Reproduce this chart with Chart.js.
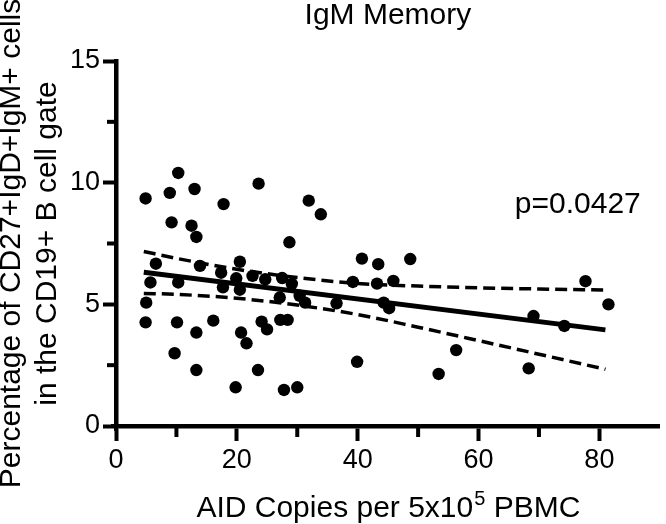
<!DOCTYPE html>
<html lang="en">
<head>
<meta charset="UTF-8">
<title>IgM Memory</title>
<script src="https://cdn.jsdelivr.net/npm/chart.js"></script>
<style>
  html, body { margin: 0; padding: 0; background: #ffffff; }
  .chart-box { width: 666px; height: 524px; position: relative; }
</style>
</head>
<body>
<div class="chart-box"><canvas id="igmChart"></canvas></div>
<script>
// scatter: AID copies vs % IgM memory cells
const aidCopies = [4.9, 10.3, 8.9, 13.0, 23.6, 17.8, 9.2, 12.5, 13.3, 6.6,
  13.9, 20.5, 17.4, 19.9, 22.6, 24.7, 5.7, 10.3, 17.7, 20.5,
  5.0, 4.9, 10.1, 13.3, 16.1, 20.7, 21.6, 24.1, 25.0, 27.2,
  28.4, 9.7, 13.3, 23.5, 19.8, 31.9, 33.9, 28.7, 40.7, 43.4,
  48.7, 27.5, 29.1, 39.2, 43.2, 45.9, 27.1, 31.3, 30.4, 36.5,
  44.3, 45.2, 39.9, 27.8, 30.0, 53.4, 56.3, 77.7, 81.5, 69.1,
  74.2, 68.3];
const igmPercent = [9.35, 10.4, 9.58, 9.74, 9.96, 9.12, 8.37, 8.23, 7.77, 6.67,
  6.58, 6.75, 6.30, 6.07, 6.17, 6.03, 5.90, 5.90, 5.70, 5.60,
  5.07, 4.26, 4.26, 3.84, 4.33, 3.84, 3.40, 4.29, 3.97, 4.36,
  4.36, 2.99, 2.30, 2.30, 1.59, 9.26, 8.70, 7.55, 6.88, 6.65,
  6.86, 6.08, 5.84, 5.92, 5.85, 5.96, 5.28, 5.07, 5.35, 5.04,
  5.07, 4.84, 2.64, 1.48, 1.59, 2.14, 3.12, 5.95, 5.00, 4.52,
  4.11, 2.37];

// regression line and 95% band
const fitX = [4.6, 81];
const fitY = [6.32, 3.95];
const bandX = [4.6, 10, 20, 30, 40, 50, 60, 70, 81];
const bandUpper = [7.17, 6.89, 6.44, 6.10, 5.86, 5.75, 5.68, 5.63, 5.59];
const bandLower = [5.45, 5.41, 5.25, 4.97, 4.58, 4.06, 3.51, 2.95, 2.33];

const xTickValues = [0, 10, 20, 30, 40, 50, 60, 70, 80];
const yTickValues = [0, 2.5, 5, 7.5, 10, 12.5, 15];

const toPoints = (xs, ys) => xs.map((v, i) => ({ x: v, y: ys[i] }));

Chart.defaults.font.family = '"Liberation Sans", Arial, Helvetica, sans-serif';
Chart.defaults.color = '#000';

const extrasPlugin = {
  id: 'extras',
  afterDraw(chart) {
    const { ctx, chartArea, scales: { x, y } } = chart;
    ctx.save();
    ctx.strokeStyle = '#000';
    ctx.lineWidth = 4;
    // short minor ticks
    xTickValues.filter(v => v % 20 !== 0).forEach(v => {
      const px = x.getPixelForValue(v);
      ctx.beginPath();
      ctx.moveTo(px, chartArea.bottom);
      ctx.lineTo(px, chartArea.bottom + 11);
      ctx.stroke();
    });
    yTickValues.filter(v => v % 5 !== 0).forEach(v => {
      const py = y.getPixelForValue(v);
      ctx.beginPath();
      ctx.moveTo(chartArea.left, py);
      ctx.lineTo(chartArea.left - 9, py);
      ctx.stroke();
    });
    // small overhang where the axes cross
    ctx.beginPath();
    ctx.moveTo(chartArea.left, chartArea.bottom);
    ctx.lineTo(chartArea.left, chartArea.bottom + 5);
    ctx.moveTo(chartArea.left, chartArea.bottom);
    ctx.lineTo(chartArea.left - 5, chartArea.bottom);
    ctx.stroke();

    // x axis title with superscript
    ctx.fillStyle = '#000';
    ctx.textBaseline = 'alphabetic';
    ctx.textAlign = 'left';
    const mainFont = '30px "Liberation Sans", Arial, sans-serif';
    const supFont = '20px "Liberation Sans", Arial, sans-serif';
    const partA = 'AID Copies per 5x10';
    const partSup = '5';
    const partB = ' PBMC';
    ctx.font = mainFont;
    const wA = ctx.measureText(partA).width;
    const wB = ctx.measureText(partB).width;
    ctx.font = supFont;
    const wS = ctx.measureText(partSup).width;
    const cx = (chartArea.left + chartArea.right) / 2;
    let tx = cx - (wA + wS + wB) / 2;
    const baseY = chartArea.bottom + 91;
    ctx.font = mainFont;
    ctx.fillText(partA, tx, baseY);
    tx += wA;
    ctx.font = supFont;
    ctx.fillText(partSup, tx + 1, baseY - 12);
    tx += wS + 1;
    ctx.font = mainFont;
    ctx.fillText(partB, tx, baseY);

    // p value
    ctx.font = '30px "Liberation Sans", Arial, sans-serif';
    ctx.fillText('p=0.0427', x.getPixelForValue(66), y.getPixelForValue(8.75));
    ctx.restore();
  }
};

new Chart(document.getElementById('igmChart'), {
  type: 'scatter',
  data: {
    datasets: [
      {
        label: 'Samples',
        data: toPoints(aidCopies, igmPercent),
        backgroundColor: '#000',
        borderWidth: 0,
        pointRadius: 6.2,
        pointHoverRadius: 6.2
      },
      {
        label: 'Fit',
        data: toPoints(fitX, fitY),
        showLine: true,
        borderColor: '#000',
        borderWidth: 5,
        pointRadius: 0
      },
      {
        label: 'Upper 95%',
        data: toPoints(bandX, bandUpper),
        showLine: true,
        borderColor: '#000',
        borderWidth: 3.5,
        borderDash: [12, 6],
        cubicInterpolationMode: 'monotone',
        pointRadius: 0
      },
      {
        label: 'Lower 95%',
        data: toPoints(bandX, bandLower),
        showLine: true,
        borderColor: '#000',
        borderWidth: 3.5,
        borderDash: [12, 6],
        cubicInterpolationMode: 'monotone',
        pointRadius: 0
      }
    ]
  },
  options: {
    responsive: true,
    maintainAspectRatio: false,
    animation: false,
    layout: { padding: 0 },
    plugins: {
      legend: { display: false },
      tooltip: { enabled: false },
      title: {
        display: true,
        text: 'IgM Memory',
        fullSize: false,
        color: '#000',
        font: { size: 30, weight: 'normal' },
        padding: { top: -2, bottom: 27 }
      }
    },
    scales: {
      x: {
        type: 'linear',
        min: 0,
        max: 90,
        afterBuildTicks: scale => { scale.ticks = xTickValues.map(v => ({ value: v })); },
        afterFit: scale => { scale.height = 98; },
        border: { display: true, color: '#000', width: 4.5 },
        grid: {
          drawOnChartArea: false,
          drawTicks: true,
          tickLength: 15,
          tickWidth: 4,
          tickColor: ctx => (ctx.tick && ctx.tick.value % 20 === 0 ? '#000' : 'rgba(0,0,0,0)')
        },
        ticks: {
          autoSkip: false,
          maxRotation: 0,
          padding: 3,
          font: { size: 27 },
          color: '#000',
          callback: v => (v % 20 === 0 ? String(v) : '')
        }
      },
      y: {
        type: 'linear',
        min: 0,
        max: 15,
        afterBuildTicks: scale => { scale.ticks = yTickValues.map(v => ({ value: v })); },
        afterFit: scale => { scale.width = 116; },
        border: { display: true, color: '#000', width: 4.5 },
        grid: {
          drawOnChartArea: false,
          drawTicks: true,
          tickLength: 13,
          tickWidth: 4,
          tickColor: ctx => (ctx.tick && ctx.tick.value % 5 === 0 ? '#000' : 'rgba(0,0,0,0)')
        },
        ticks: {
          autoSkip: false,
          padding: 3,
          font: { size: 27 },
          color: '#000',
          callback: v => (v % 5 === 0 ? String(v) : '')
        },
        title: {
          display: true,
          text: ['Percentage of CD27+IgD+IgM+ cells', 'in the CD19+ B cell gate'],
          color: '#000',
          font: { size: 30, lineHeight: 1.2 },
          padding: { top: -6, bottom: 0 }
        }
      }
    }
  },
  plugins: [extrasPlugin]
});
</script>
</body>
</html>
